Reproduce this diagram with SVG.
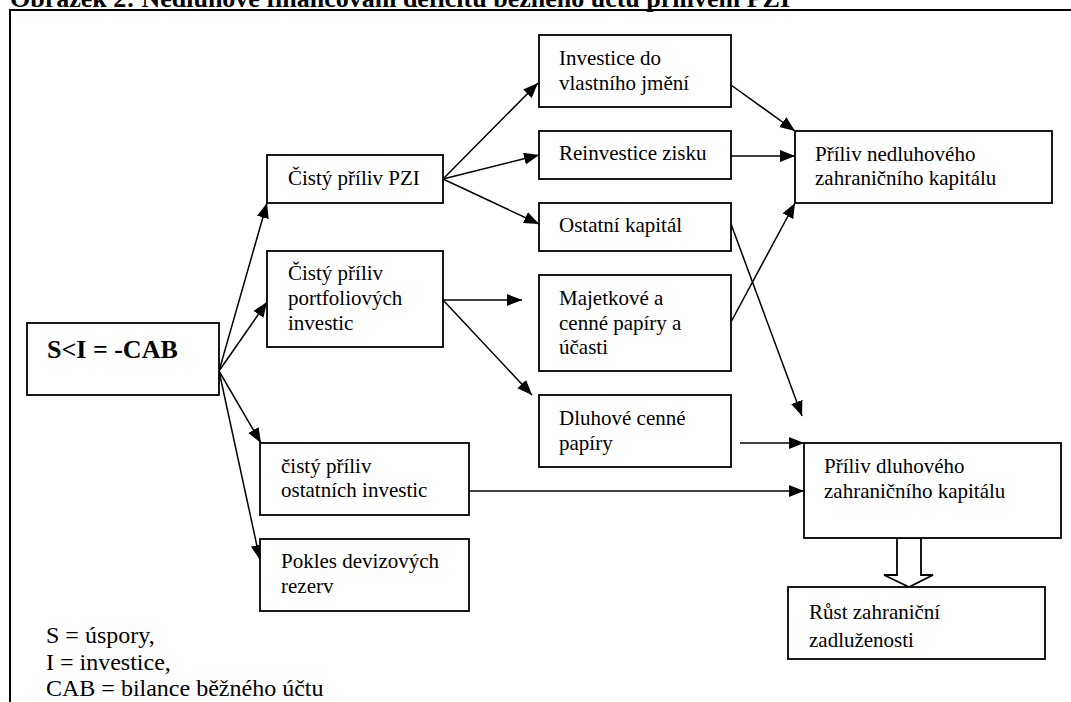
<svg xmlns="http://www.w3.org/2000/svg" width="1071" height="702" viewBox="0 0 1071 702">
<style>
.box{fill:#fff;stroke:#000;stroke-width:1.8}
.t{font-family:"Liberation Serif","Times New Roman",serif;font-size:21px;fill:#000}
.lg{font-family:"Liberation Serif","Times New Roman",serif;font-size:24px;fill:#000}
.b{font-family:"Liberation Serif","Times New Roman",serif;font-weight:bold;fill:#000}
.c{fill:none;stroke:#000;stroke-width:1.5;marker-end:url(#ah)}
.frame{fill:none;stroke:#000;stroke-width:2}
</style>
<defs>
<marker id="ah" markerUnits="userSpaceOnUse" markerWidth="16" markerHeight="13" refX="15" refY="6" orient="auto">
<path d="M0,0 L15,6 L0,12 z" fill="#000"/>
</marker>
</defs>
<rect width="1071" height="702" fill="#fff"/>
<text class="b" x="10" y="7" font-size="26">Obrázek 2: Nedluhové financování deficitu běžného účtu přílivem PZI</text>
<path class="frame" d="M10,703 V10 H1071"/>

<g id="connectors">
<line class="c" x1="219" y1="371" x2="267" y2="203"/>
<line class="c" x1="219" y1="371" x2="267" y2="302"/>
<line class="c" x1="219" y1="371" x2="261" y2="443"/>
<line class="c" x1="219" y1="371" x2="260" y2="560"/>
<line class="c" x1="443" y1="179" x2="538" y2="83"/>
<line class="c" x1="443" y1="179" x2="539" y2="155"/>
<line class="c" x1="443" y1="179" x2="539" y2="224"/>
<line class="c" x1="443" y1="300" x2="522" y2="300"/>
<line class="c" x1="443" y1="300" x2="532" y2="395"/>
<line class="c" x1="731" y1="85" x2="795" y2="131"/>
<line class="c" x1="731" y1="156" x2="795" y2="156"/>
<line class="c" x1="731" y1="224" x2="802" y2="416"/>
<line class="c" x1="731" y1="322" x2="795" y2="203"/>
<line class="c" x1="740" y1="443" x2="804" y2="443"/>
<line class="c" x1="469" y1="491" x2="804" y2="491"/>
<polygon points="897,538 897,575 884,575 909,587 933,575 921,575 921,538" fill="#fff" stroke="#000" stroke-width="1.8"/>
</g>

<g id="n-cab">
<rect class="box" x="27" y="323" width="192" height="72"/>
<text class="b" x="47" y="358" font-size="26">S&lt;I = -CAB</text>
</g>
<g id="n-pzi">
<rect class="box" x="267" y="155" width="176" height="48"/>
<text class="t" x="288" y="185">Čistý příliv PZI</text>
</g>
<g id="n-portfolio">
<rect class="box" x="267" y="251" width="176" height="96"/>
<text class="t" x="288" y="280">Čistý příliv</text>
<text class="t" x="288" y="305">portfoliových</text>
<text class="t" x="288" y="330">investic</text>
</g>
<g id="n-ostatni-inv">
<rect class="box" x="260" y="443" width="209" height="72"/>
<text class="t" x="281" y="473">čistý příliv</text>
<text class="t" x="281" y="497">ostatních investic</text>
</g>
<g id="n-pokles">
<rect class="box" x="260" y="539" width="209" height="72"/>
<text class="t" x="281" y="568">Pokles devizových</text>
<text class="t" x="281" y="593">rezerv</text>
</g>
<g id="n-investice">
<rect class="box" x="539" y="35" width="192" height="72"/>
<text class="t" x="559" y="65">Investice do</text>
<text class="t" x="559" y="90">vlastního jmění</text>
</g>
<g id="n-reinvestice">
<rect class="box" x="539" y="131" width="192" height="48"/>
<text class="t" x="559" y="160">Reinvestice zisku</text>
</g>
<g id="n-ostatni-kap">
<rect class="box" x="539" y="203" width="192" height="48"/>
<text class="t" x="559" y="232">Ostatní kapitál</text>
</g>
<g id="n-majetkove">
<rect class="box" x="539" y="275" width="192" height="96"/>
<text class="t" x="559" y="305">Majetkové a</text>
<text class="t" x="559" y="330">cenné papíry a</text>
<text class="t" x="559" y="354">účasti</text>
</g>
<g id="n-dluhove">
<rect class="box" x="539" y="395" width="192" height="72"/>
<text class="t" x="559" y="425">Dluhové cenné</text>
<text class="t" x="559" y="450">papíry</text>
</g>
<g id="n-nedluhovy">
<rect class="box" x="795" y="131" width="257" height="72"/>
<text class="t" x="815" y="161">Příliv nedluhového</text>
<text class="t" x="815" y="185">zahraničního kapitálu</text>
</g>
<g id="n-dluhovy">
<rect class="box" x="804" y="443" width="257" height="95"/>
<text class="t" x="824" y="473">Příliv dluhového</text>
<text class="t" x="824" y="498">zahraničního kapitálu</text>
</g>
<g id="n-rust">
<rect class="box" x="788" y="587" width="257" height="72"/>
<text class="t" x="809" y="619">Růst zahraniční</text>
<text class="t" x="809" y="647">zadluženosti</text>
</g>
<g id="legend">
<text class="lg" x="46" y="643">S = úspory,</text>
<text class="lg" x="46" y="670">I = investice,</text>
<text class="lg" x="46" y="696">CAB = bilance běžného účtu</text>
</g>
</svg>
